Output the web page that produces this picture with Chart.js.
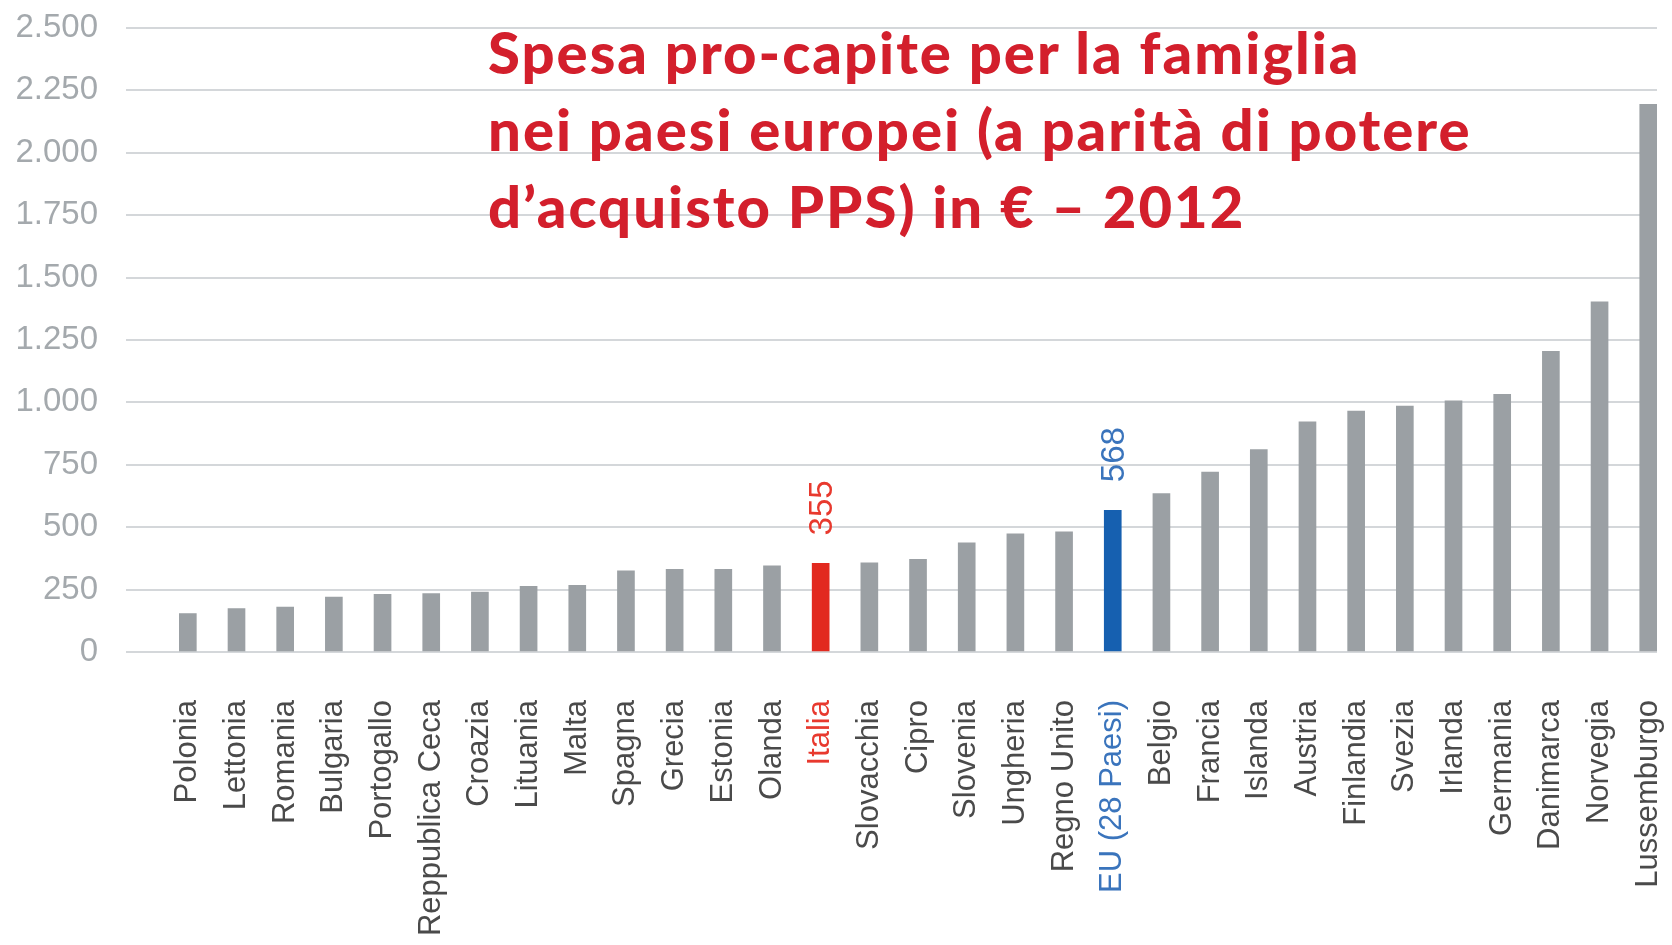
<!DOCTYPE html>
<html>
<head>
<meta charset="utf-8">
<script src="https://cdn.jsdelivr.net/npm/chart.js@4.4.1/dist/chart.umd.min.js"></script>
<style>
  html, body { margin: 0; padding: 0; background: #fff; }
  #wrap { position: relative; width: 1672px; height: 945px; }
  #titolo {
    position: absolute; left: 488px; top: 13px;
    font-family: Lato, "Noto Sans", sans-serif; font-weight: 900;
    font-size: 58px; line-height: 77px; letter-spacing: 2px; color: #d31f2c;
    white-space: nowrap;
  }
</style>
</head>
<body>
<div id="wrap">
  <canvas id="chart_spesaFamiglia"></canvas>
  <div id="titolo">Spesa pro-capite per la famiglia<br>nei paesi europei (a parità di potere<br>d’acquisto PPS) in € – 2012</div>
</div>
<script>
// dati (PPS, 2012)
var paesi = [
  'Polonia', 'Lettonia', 'Romania', 'Bulgaria', 'Portogallo', 'Reppublica Ceca', 'Croazia',
  'Lituania', 'Malta', 'Spagna', 'Grecia', 'Estonia', 'Olanda', 'Italia', 'Slovacchia',
  'Cipro', 'Slovenia', 'Ungheria', 'Regno Unito', 'EU (28 Paesi)', 'Belgio', 'Francia',
  'Islanda', 'Austria', 'Finlandia', 'Svezia', 'Irlanda', 'Germania', 'Danimarca',
  'Norvegia', 'Lussemburgo'
];
var spesa = [
  154, 174, 180, 220, 231, 234, 240,
  263, 267, 325, 331, 331, 345, 355, 357,
  371, 437, 473, 481, 568, 635, 721,
  811, 922, 965, 985, 1006, 1032, 1205,
  1403, 2194
];
var yTicks = [0, 250, 500, 750, 1000, 1250, 1500, 1750, 2000, 2250, 2500];
var evidenziati = ['Italia', 'EU (28 Paesi)'];

var GRIGIO = '#9ba0a4';
var ROSSO = '#e2291f';
var BLU = '#1660b0';
var coloreTesto = { 'Italia': '#e8392e', 'EU (28 Paesi)': '#3a74bc' };

var iItalia = paesi.indexOf('Italia');
var iEU = paesi.indexOf('EU (28 Paesi)');

function colorBarra(i) {
  if (i === iItalia) return ROSSO;
  if (i === iEU) return BLU;
  return GRIGIO;
}

function formatIt(v) {
  return String(v).replace(/\B(?=(\d{3})+(?!\d))/g, '.');
}

var chart_spesaFamiglia = new Chart(document.getElementById('chart_spesaFamiglia'), {
    type: 'bar',
    data: {
        datasets: [
            {
                label: 'Spesa pro-capite',
                data: spesa.map(function (v, i) { return { x: i, y: v }; }),
                backgroundColor: spesa.map(function (v, i) { return colorBarra(i); }),
                barThickness: 17,
                borderWidth: 0
            }
        ]
    },
    options: {
        animation: false,
        responsive: true,
        maintainAspectRatio: false,
        layout: {
            padding: { top: 28, right: 15, left: 0, bottom: 0 }
        },
        plugins: {
            legend: { display: false },
            tooltip: { enabled: false }
        },
        scales: {
            x: {
                type: 'linear',
                offset: false,
                min: -1.27,
                max: 30.18,
                afterBuildTicks: function (scale) {
                    scale.ticks = paesi.map(function (p, i) { return { value: i }; });
                },
                afterFit: function (scale) {
                    scale.height = 293;
                    scale.paddingLeft = 0;
                    scale.paddingRight = 0;
                },
                grid: { display: false, drawTicks: false, offset: false },
                border: { display: false },
                ticks: {
                    autoSkip: false,
                    minRotation: 90,
                    maxRotation: 90,
                    padding: 48,
                    font: { family: '"Liberation Sans", Arial, sans-serif', size: 31 },
                    color: function (c) {
                        var p = paesi[c.tick.value];
                        return coloreTesto[p] || '#4a4a4a';
                    },
                    callback: function (v) { return paesi[v]; }
                }
            },
            y: {
                min: 0,
                max: 2500,
                afterBuildTicks: function (scale) {
                    scale.ticks = yTicks.map(function (v) { return { value: v }; });
                },
                afterFit: function (scale) {
                    scale.width = 126;
                    scale.paddingTop = 0;
                    scale.paddingBottom = 0;
                },
                grid: { color: '#d4d7da', lineWidth: 2, drawTicks: false },
                border: { display: false },
                ticks: {
                    padding: 28,
                    font: { family: '"Liberation Sans", Arial, sans-serif', size: 33 },
                    color: '#a4a9ad',
                    callback: function (v) { return formatIt(v); }
                }
            }
        }
    },
    plugins: [{
        id: 'etichetteValori',
        afterDatasetsDraw: function (chart) {
            var ctx = chart.ctx;
            var meta = chart.getDatasetMeta(0);
            ctx.save();
            ctx.font = '33px "Liberation Sans", Arial, sans-serif';
            ctx.textAlign = 'left';
            ctx.textBaseline = 'middle';
            evidenziati.forEach(function (p) {
                var i = paesi.indexOf(p);
                var bar = meta.data[i];
                ctx.save();
                ctx.translate(bar.x + 2, bar.y - 28);
                ctx.rotate(-Math.PI / 2);
                ctx.fillStyle = coloreTesto[p];
                ctx.fillText(formatIt(spesa[i]), 0, 0);
                ctx.restore();
            });
            ctx.restore();
        }
    }, {
        id: 'customPlugin',
        beforeDraw: function (chart) {
            var ctx = chart.canvas.getContext('2d');
            ctx.save();
            ctx.globalCompositeOperation = 'destination-over';
            ctx.fillStyle = 'white';
            ctx.fillRect(0, 0, chart.canvas.width, chart.canvas.height);
            ctx.restore();
        }
    }]
});
</script>
</body>
</html>
